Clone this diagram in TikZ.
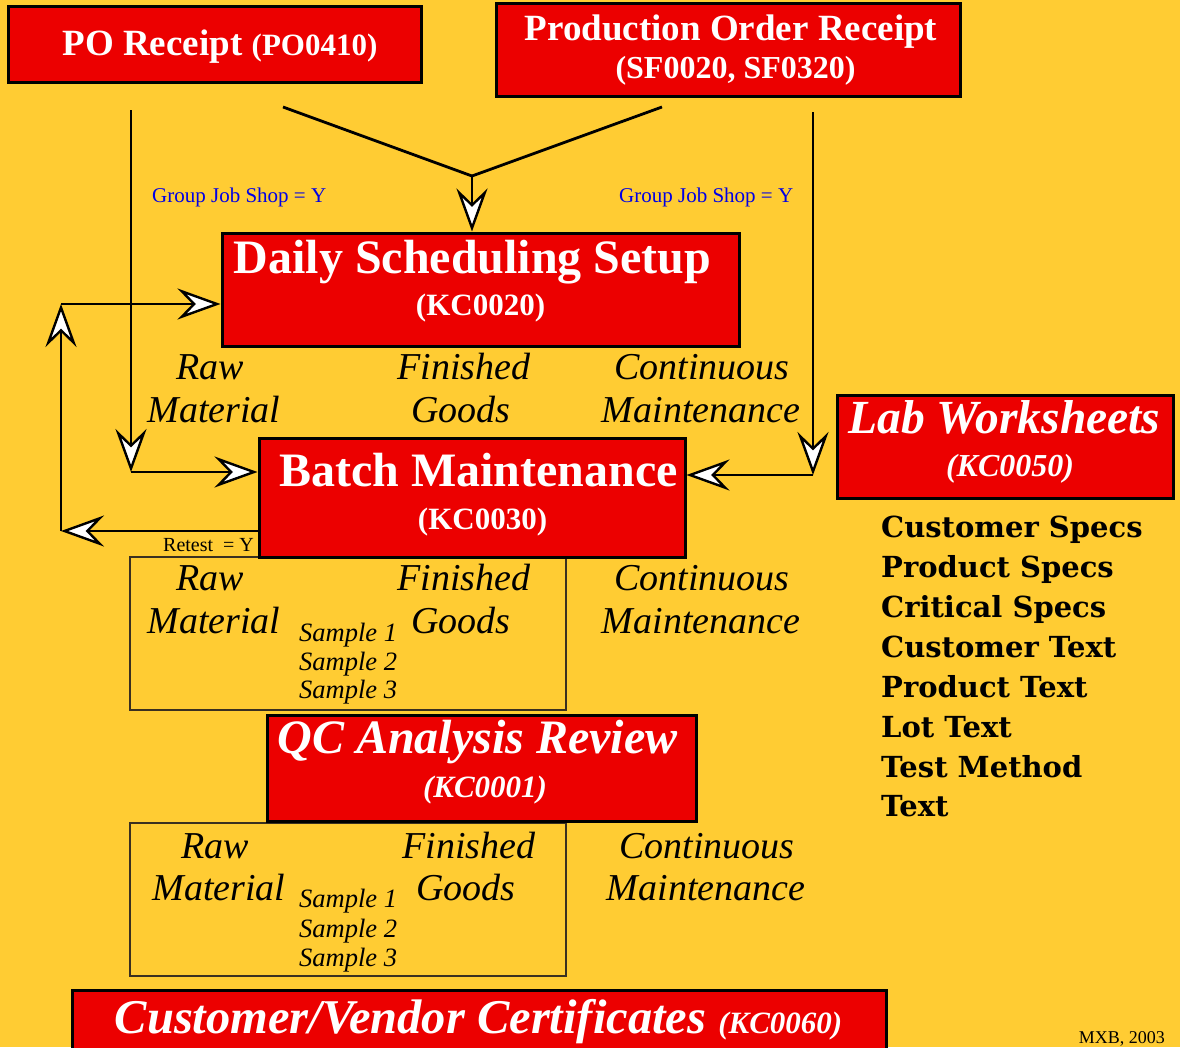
\documentclass[tikz,border=0pt]{standalone}
\usepackage{fontspec}
\setmainfont{Liberation Serif}
\newfontfamily\bkfont{DejaVu Serif}
\usetikzlibrary{arrows.meta}
\definecolor{bgc}{HTML}{FFCC33}
\definecolor{redc}{HTML}{EC0000}
\definecolor{bluec}{HTML}{0000E6}
\definecolor{thinc}{HTML}{3A3020}
\newcommand\fsz[1]{\fontsize{#1}{#1}\selectfont}
\tikzset{
  redbox/.style={draw=black, line width=3pt, fill=redc, inner sep=0pt},
  thinbox/.style={draw=thinc, line width=1.1pt, inner sep=0pt},
  wtxt/.style={text=white, inner sep=0pt, anchor=base},
  lab/.style={font=\fsz{38}\itshape, inner sep=0pt, anchor=base},
  smp/.style={font=\fsz{26.5}\itshape, inner sep=0pt, anchor=base west},
  spec/.style={font=\bkfont\bfseries\fsz{29}, inner sep=0pt, anchor=base west},
  note/.style={font=\fsz{21}, text=bluec, inner sep=0pt, anchor=base west},
  conn/.style={draw=black, line width=2.8pt},
  arr/.style={conn, -{Stealth[length=43pt,width=31pt,inset=15pt,fill=white,line width=2.4pt]}}
}
\begin{document}
\begin{tikzpicture}[x=1pt,y=-1pt]
\fill[bgc] (0,0) rectangle (1180,1047);
\useasboundingbox (0,0) rectangle (1180,1047);
\clip (0,0) rectangle (1180,1047);

% top boxes
\node[redbox, minimum width=413pt, minimum height=76pt] (po) at (214.5,44) {};
\node[wtxt, font=\fsz{37}\bfseries] (potxt) at (220,55) {PO Receipt {\fsz{31}(PO0410)}};
\node[redbox, minimum width=464pt, minimum height=93pt] (prod) at (728,49.5) {};
\node[wtxt, font=\fsz{37}\bfseries] (prodtxt) at (731,40) {Production Order Receipt};
\node[wtxt, font=\fsz{32}\bfseries] (prodcode) at (735.5,78) {(SF0020, SF0320)};

% notes
\node[note] (gjs1) at (152,202) {Group Job Shop = Y};
\node[note] (gjs2) at (619,202) {Group Job Shop = Y};
\node[font=\fsz{20}, inner sep=0pt, anchor=base west] (retest) at (163,551) {Retest\ \ = Y};

% thin boxes
\node[thinbox, minimum width=436pt, minimum height=153pt] (box1) at (348,633.5) {};
\node[thinbox, minimum width=436pt, minimum height=153pt] (box2) at (348,899.5) {};

% main boxes
\node[redbox, minimum width=517pt, minimum height=113pt] (daily) at (480.5,289.5) {};
\node[wtxt, font=\fsz{48}\bfseries] (dailytxt) at (472.5,273) {Daily Scheduling Setup};
\node[wtxt, font=\fsz{31}\bfseries] (dailycode) at (480.5,315) {(KC0020)};

\node[redbox, minimum width=426pt, minimum height=119pt] (batch) at (472,497.5) {};
\node[wtxt, font=\fsz{48}\bfseries] (batchtxt) at (478.5,486) {Batch Maintenance};
\node[wtxt, font=\fsz{31}\bfseries] (batchcode) at (482.5,529) {(KC0030)};

\node[redbox, minimum width=336pt, minimum height=103pt] (lab) at (1005,446.5) {};
\node[wtxt, font=\fsz{47.5}\bfseries\itshape] (labtxt) at (1004.5,433) {Lab Worksheets};
\node[wtxt, font=\fsz{32}\bfseries\itshape] (labcode) at (1010,476) {(KC0050)};

\node[redbox, minimum width=429pt, minimum height=106pt] (qc) at (481.5,768) {};
\node[wtxt, font=\fsz{48}\bfseries\itshape] (qctxt) at (477.5,753) {QC Analysis Review};
\node[wtxt, font=\fsz{31}\bfseries\itshape] (qccode) at (485,797) {(KC0001)};

\node[redbox, minimum width=814pt, minimum height=80pt] (cert) at (479,1030) {};
\node[wtxt, font=\fsz{48.5}\bfseries\itshape] (certtxt) at (478.5,1033) {Customer/Vendor Certificates {\fsz{31}(KC0060)}};

\node[font=\fsz{18}, inner sep=0pt, anchor=base east] (mxb) at (1165,1043) {MXB, 2003};

% italic labels row A
\node[lab] (ra1) at (210,379) {Raw};
\node[lab] (ra2) at (214,422) {Material};
\node[lab] (fa1) at (464,379) {Finished};
\node[lab] (fa2) at (461,422) {Goods};
\node[lab] (ca1) at (702,379) {Continuous};
\node[lab] (ca2) at (701,422) {Maintenance};
% box1 labels
\node[lab] (rb1) at (210,590) {Raw};
\node[lab] (rb2) at (214,633) {Material};
\node[lab] (fb1) at (464,590) {Finished};
\node[lab] (fb2) at (461,633) {Goods};
\node[lab] (cb1) at (702,590) {Continuous};
\node[lab] (cb2) at (701,633) {Maintenance};
\node[smp] (sb1) at (299,641) {Sample 1};
\node[smp] (sb2) at (299,670) {Sample 2};
\node[smp] (sb3) at (299,698) {Sample 3};
% box2 labels
\node[lab] (rc1) at (215,858) {Raw};
\node[lab] (rc2) at (219,900) {Material};
\node[lab] (fc1) at (469,858) {Finished};
\node[lab] (fc2) at (466,900) {Goods};
\node[lab] (cc1) at (707,858) {Continuous};
\node[lab] (cc2) at (706,900) {Maintenance};
\node[smp] (sc1) at (299,907) {Sample 1};
\node[smp] (sc2) at (299,937) {Sample 2};
\node[smp] (sc3) at (299,966) {Sample 3};

% spec list
\node[spec] (s1) at (881,537) {Customer Specs};
\node[spec] (s2) at (881,577) {Product Specs};
\node[spec] (s3) at (881,617) {Critical Specs};
\node[spec] (s4) at (881,657) {Customer Text};
\node[spec] (s5) at (881,697) {Product Text};
\node[spec] (s6) at (881,737) {Lot Text};
\node[spec] (s7) at (881,777) {Test Method};
\node[spec] (s8) at (881,816) {Text};

% connectors
\coordinate (tl) at (283,107);
\coordinate (tr) at (662,107);
\coordinate (jn) at (472,176);
\coordinate (lv0) at (131,110);
\coordinate (c1) at (131,472);
\coordinate (rv0) at (813,112);
\coordinate (c2) at (813,475);
\coordinate (c3) at (61,531);
\coordinate (c4) at (61,304);

\draw[conn, line join=round] (tl) -- (jn) -- (tr);
\draw[arr] (jn) -- (jn |- daily.north);
\draw[arr] (lv0) -- (c1);
\draw[arr] (c1) -- (c1 -| batch.west);
\draw[arr] (rv0) -- (c2);
\draw[arr] (c2) -- (c2 -| batch.east);
\draw[arr] (c3 -| batch.west) -- (c3);
\draw[arr] (c3) -- (c4);
\draw[arr] (c4) -- (c4 -| daily.west);
\end{tikzpicture}
\end{document}
